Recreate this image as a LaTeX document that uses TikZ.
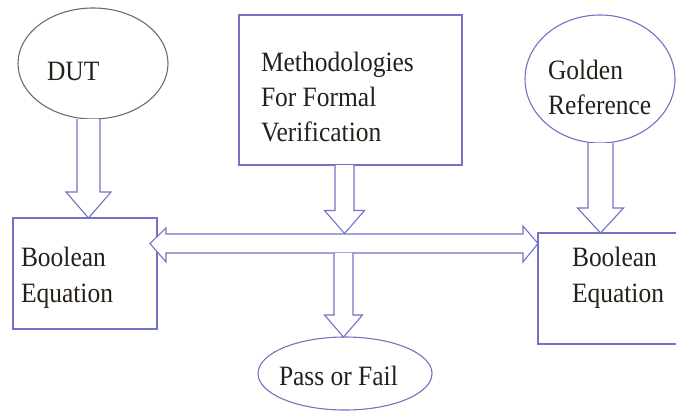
\documentclass[tikz,border=0pt]{standalone}
\usepackage{fontspec}
\setmainfont{Liberation Serif}[FakeStretch=0.91]
\usetikzlibrary{calc,shapes.geometric}

\definecolor{edgeblue}{RGB}{114,114,198}
\definecolor{edgegray}{RGB}{108,108,108}
\definecolor{inkdark}{RGB}{38,32,26}

% vertical block arrow: #1 centre x, #2 start point, #3 tip point,
% #4 shaft half width, #5 head half width, #6 head length
\newcommand\vblockarrow[6]{%
  \draw[blockarrow] let \p1=(#2), \p2=(#3) in
    (#1pt-#4pt,\y1) -- (#1pt-#4pt,\y2+#6pt) -- (#1pt-#5pt,\y2+#6pt)
    -- (#1pt,\y2) -- (#1pt+#5pt,\y2+#6pt) -- (#1pt+#4pt,\y2+#6pt)
    -- (#1pt+#4pt,\y1);%
}

\begin{document}
\begin{tikzpicture}[x=1pt,y=-1pt,
  line join=miter,
  shapeline/.style={draw=edgeblue, line width=1.1pt, inner sep=0pt, outer sep=0pt},
  boxshape/.style={shapeline, rectangle},
  ovalshape/.style={shapeline, ellipse},
  blockarrow/.style={draw=edgeblue, line width=1.1pt, fill=white},
  label/.style={inner sep=0pt, outer sep=0pt, anchor=base west, align=left,
    text=inkdark, font=\fontsize{28}{35}\selectfont}]
\useasboundingbox (0,0) rectangle (676,410);
\clip (0,0) rectangle (676,410);

% shapes
\node[ovalshape, draw=edgegray, minimum width=150pt, minimum height=111pt] (dut) at (93,63.5) {};
\node[boxshape, minimum width=223pt, minimum height=150pt] (meth) at (350.5,90) {};
\node[ovalshape, minimum width=150pt, minimum height=128pt] (gold) at (600,79) {};
\node[boxshape, minimum width=144pt, minimum height=111pt] (lbox) at (85,273.5) {};
\node[boxshape, minimum width=144pt, minimum height=111pt] (rbox) at (610,288.5) {};
\node[ovalshape, minimum width=174pt, minimum height=73pt] (pass) at (345,373.5) {};

% texts (placed by the baseline of their last line)
\node[label] (tdut) at (47,80) {DUT};
\node[label] (tmeth) at (261,141.5) {Methodologies\\For Formal\\Verification};
\node[label] (tgold) at (548,114) {Golden\\Reference};
\node[label, font=\fontsize{28}{36}\selectfont] (tlbox) at (21,302) {Boolean\\Equation};
\node[label, font=\fontsize{28}{36}\selectfont] (trbox) at (572,302) {Boolean\\Equation};
\node[label] (tpass) at (279,385) {Pass or Fail};

% horizontal double block arrow between the two equation boxes
\draw[blockarrow] let \p1=($(lbox.east)+(-7,0)$), \p2=(rbox.west) in
  (\x1,-243.5pt) -- (\x1+16pt,-228pt) -- (\x1+16pt,-234pt)
  -- (\x2-15pt,-234pt) -- (\x2-15pt,-226pt) -- (\x2,-243.5pt)
  -- (\x2-15pt,-262pt) -- (\x2-15pt,-253pt)
  -- (\x1+16pt,-253pt) -- (\x1+16pt,-262pt) -- cycle;

% vertical block arrows
\coordinate (hbartop) at (344.5,233.5);
\coordinate (hbarbot) at (343.5,253);
\vblockarrow{88.5}{dut.south}{lbox.north}{11.5}{22.5}{26}
\vblockarrow{344.5}{meth.south}{hbartop}{9.5}{20}{23}
\vblockarrow{600.5}{gold.south}{rbox.north}{12.5}{23}{25}
\vblockarrow{343.5}{hbarbot}{pass.north}{9.5}{19}{22}
\end{tikzpicture}
\end{document}
